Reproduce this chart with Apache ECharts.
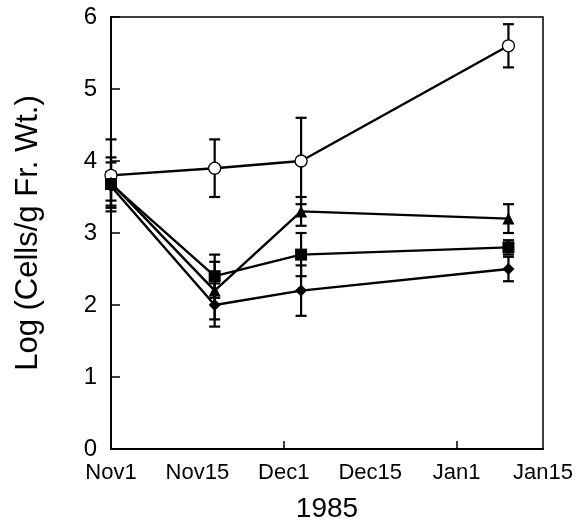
<!DOCTYPE html>
<html>
<head>
<meta charset="utf-8">
<script src="https://cdn.jsdelivr.net/npm/echarts@6/dist/echarts.min.js"></script>
<style>
  html, body { margin: 0; padding: 0; background: #fff; }
  #chart { width: 576px; height: 529px; }
</style>
</head>
<body>
<div id="chart"></div>
<script>
// x axis runs in days from Nov 1, labels equally spaced every 15
const tickLabels = ["Nov1", "Nov15", "Dec1", "Dec15", "Jan1", "Jan15"];
const sampleDays = [0, 18, 33, 69];

const openCircle = [3.8, 3.9, 4.0, 5.6];
const openCircleErr = [0.5, 0.4, 0.6, 0.3];
const triangle = [3.7, 2.2, 3.3, 3.2];
const triangleErr = [0.35, 0.4, 0.2, 0.2];
const square = [3.68, 2.4, 2.7, 2.8];
const squareErr = [0.3, 0.3, 0.3, 0.1];
const diamond = [3.65, 2.0, 2.2, 2.5];
const diamondErr = [0.2, 0.3, 0.35, 0.17];

const font = "Liberation Sans, Arial, Helvetica, sans-serif";
const chart = echarts.init(document.getElementById("chart"));

function points(vals) {
  return sampleDays.map((d, i) => [d, vals[i]]);
}
function bars(vals, errs) {
  return sampleDays.map((d, i) => [d, vals[i] - errs[i], vals[i] + errs[i]]);
}

function errorBarSeries(vals, errs) {
  return {
    type: "custom",
    clip: false,
    z: 1,
    data: bars(vals, errs),
    renderItem: function (params, api) {
      const lo = api.coord([api.value(0), api.value(1)]);
      const hi = api.coord([api.value(0), api.value(2)]);
      const w = 5.5;
      const style = { stroke: "#000", lineWidth: 2.2 };
      return {
        type: "group",
        children: [
          { type: "line", shape: { x1: lo[0], y1: lo[1], x2: hi[0], y2: hi[1] }, style: style },
          { type: "line", shape: { x1: lo[0] - w, y1: lo[1], x2: lo[0] + w, y2: lo[1] }, style: style },
          { type: "line", shape: { x1: hi[0] - w, y1: hi[1], x2: hi[0] + w, y2: hi[1] }, style: style },
        ],
      };
    },
  };
}

function lineSeries(vals, symbol, size, fill) {
  return {
    type: "line",
    clip: false,
    z: 3,
    data: points(vals),
    symbol: symbol,
    symbolSize: size,
    showAllSymbol: true,
    lineStyle: { color: "#000", width: 2.4 },
    itemStyle: { color: fill, borderColor: "#000", borderWidth: fill === "#fff" ? 1.3 : 0 },
  };
}

const option = {
  animation: false,
  backgroundColor: "#fff",
  grid: {
    left: 111,
    right: 33,
    top: 17,
    bottom: 80,
    show: true,
    borderColor: "#000",
    borderWidth: 1.5,
    backgroundColor: "transparent",
  },
  xAxis: {
    type: "value",
    min: 0,
    max: 75,
    interval: 15,
    name: "1985",
    nameLocation: "middle",
    nameGap: 46,
    nameTextStyle: { fontFamily: font, fontSize: 28, color: "#000" },
    axisLine: { show: true, lineStyle: { color: "#000", width: 1.8 } },
    axisTick: { show: true, inside: true, length: 8, customValues: [30, 60], lineStyle: { color: "#000", width: 1.5 } },
    splitLine: { show: false },
    axisLabel: {
      margin: 13,
      fontFamily: font,
      fontSize: 22,
      color: "#000",
      formatter: (v) => tickLabels[Math.round(v / 15)],
    },
  },
  yAxis: {
    type: "value",
    min: 0,
    max: 6,
    interval: 1,
    name: "Log (Cells/g Fr. Wt.)",
    nameLocation: "middle",
    nameGap: 67,
    nameTextStyle: { fontFamily: font, fontSize: 31, color: "#000" },
    axisLine: { show: true, lineStyle: { color: "#000", width: 1.8 } },
    axisTick: { show: true, inside: true, length: 9, lineStyle: { color: "#000", width: 1.5 } },
    splitLine: { show: false },
    axisLabel: { margin: 14, fontFamily: font, fontSize: 24, color: "#000" },
  },
  series: [
    errorBarSeries(openCircle, openCircleErr),
    errorBarSeries(triangle, triangleErr),
    errorBarSeries(square, squareErr),
    errorBarSeries(diamond, diamondErr),
    lineSeries(openCircle, "circle", 12, "#fff"),
    lineSeries(triangle, "triangle", 12, "#000"),
    lineSeries(square, "rect", 12, "#000"),
    lineSeries(diamond, "diamond", 12, "#000"),
  ],
};

chart.setOption(option);
</script>
</body>
</html>
